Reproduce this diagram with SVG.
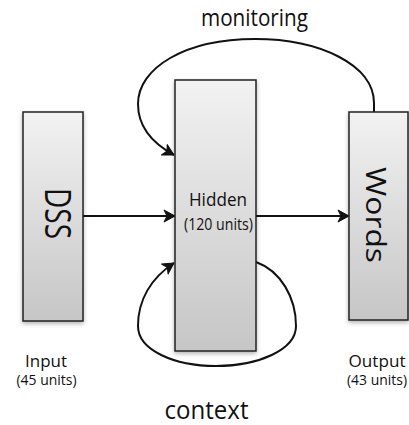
<svg xmlns="http://www.w3.org/2000/svg" width="409" height="425" viewBox="0 0 409 425">
<defs>
<linearGradient id="g" x1="0" y1="0" x2="0" y2="1">
<stop offset="0" stop-color="#f2f2f2"/>
<stop offset="1" stop-color="#c6c6c6"/>
</linearGradient>
<filter id="sh" x="-20%" y="-10%" width="140%" height="125%">
<feDropShadow dx="0" dy="2" stdDeviation="2" flood-color="#000" flood-opacity="0.3"/>
</filter>
<marker id="ah" markerUnits="userSpaceOnUse" markerWidth="14" markerHeight="14" viewBox="0 0 14 14" refX="12" refY="7" orient="auto">
<path d="M1,1 L12,7 L1,13 L4,7 Z" fill="#111" stroke="#111" stroke-width="1" stroke-linejoin="round"/>
</marker>
<style>
.box{fill:url(#g);stroke:#222;stroke-width:1.5;filter:url(#sh)}
.ln{fill:none;stroke:#111;stroke-width:2}
text{font-family:"Open Sans","Liberation Sans",sans-serif;fill:#111}
</style>
</defs>
<g id="connectors">
<path class="ln" d="M374,112 L374,103 C374,65 320,39 255,39 C185,39 138,68 138,104 C138,127 152,143 174,155" marker-end="url(#ah)"/>
<path class="ln" d="M256,262 C281,271 296,298 296,326 C296,350 258,366 216,366 C174,366 138,350 138,326 C138,300 151,278 174,263" marker-end="url(#ah)"/>
<line class="ln" x1="83" y1="216" x2="175" y2="216" marker-end="url(#ah)"/>
<line class="ln" x1="256" y1="216" x2="349" y2="216" marker-end="url(#ah)"/>
</g>
<g id="dss">
<rect class="box" x="23" y="112" width="60" height="209"/>
<text transform="translate(45,188) rotate(90)" x="0" y="0" font-size="36" textLength="51" lengthAdjust="spacingAndGlyphs">DSS</text>
</g>
<g id="hidden">
<rect class="box" x="175" y="80" width="81" height="271"/>
<text x="218" y="206" font-size="19" text-anchor="middle" textLength="58" lengthAdjust="spacingAndGlyphs">Hidden</text>
<text x="218.5" y="230" font-size="15.5" text-anchor="middle" textLength="69" lengthAdjust="spacingAndGlyphs">(120 units)</text>
</g>
<g id="words">
<rect class="box" x="349" y="112" width="59" height="208"/>
<text transform="translate(366,167) rotate(90)" x="0" y="0" font-size="27" textLength="96" lengthAdjust="spacingAndGlyphs">Words</text>
</g>
<g id="labels">
<text x="254.5" y="26" font-size="24" text-anchor="middle" textLength="107" lengthAdjust="spacingAndGlyphs">monitoring</text>
<text x="206.5" y="419" font-size="25" text-anchor="middle" textLength="84" lengthAdjust="spacingAndGlyphs">context</text>
<text x="46" y="367" font-size="17" text-anchor="middle" textLength="42" lengthAdjust="spacingAndGlyphs">Input</text>
<text x="46.5" y="385" font-size="14" text-anchor="middle" textLength="60" lengthAdjust="spacingAndGlyphs">(45 units)</text>
<text x="377" y="367" font-size="17" text-anchor="middle" textLength="57" lengthAdjust="spacingAndGlyphs">Output</text>
<text x="377" y="385" font-size="14" text-anchor="middle" textLength="60" lengthAdjust="spacingAndGlyphs">(43 units)</text>
</g>
</svg>
